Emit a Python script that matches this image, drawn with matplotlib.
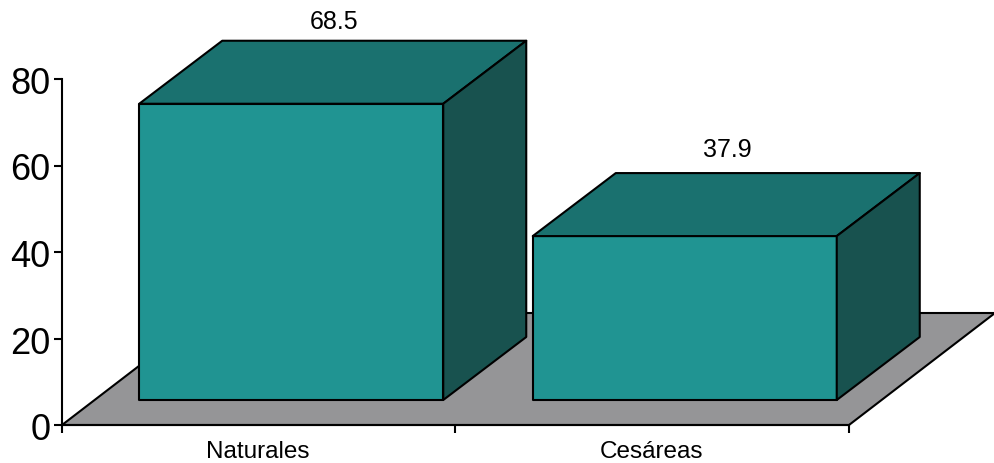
#!/usr/bin/env python

import matplotlib
matplotlib.use('Agg')
import matplotlib.pyplot as plt
from matplotlib.patches import Polygon
from matplotlib.transforms import ScaledTranslation

categories = ['Naturales', 'Cesáreas']
values = [68.5, 37.9]
value_labels = ['68.5', '37.9']
yticks = [0, 20, 40, 60, 80]

plt.rcParams['font.family'] = ['Liberation Sans', 'DejaVu Sans']

W, H = 995, 463
fig = plt.figure(figsize=(W / 100, H / 100), dpi=100)
ax = fig.add_axes([62 / W, (H - 425) / H, 787 / W, 346 / H])
ax.set_xlim(0, 2)
ax.set_ylim(0, 80)

# pixels to data units, the 3d look is only sheared polygons
ux = 2 / 787
uy = 80 / 346
floor_dx, floor_dy = 146 * ux, 112 * uy
front_dx, front_dy = 32.5 * ux, 25 * uy
depth_dx, depth_dy = 83 * ux, 63 * uy
bar_w = 304 * ux
label_gap = [7, 11]


def poly(pts, color, edge='black', lw=1.5):
    ax.add_patch(Polygon(pts, closed=True, facecolor=color, edgecolor=edge,
                         linewidth=lw, clip_on=False, joinstyle='round'))


poly([(0, 0), (2, 0), (2 + floor_dx, floor_dy), (floor_dx, floor_dy)], '#959597')

for i, v in enumerate(values):
    x0 = i + 0.5 - bar_w / 2 + front_dx
    x1 = x0 + bar_w
    y0 = front_dy
    y1 = y0 + v
    poly([(x0, y0), (x1, y0), (x1, y1), (x0, y1)], '#209492')
    poly([(x0, y1), (x1, y1), (x1 + depth_dx, y1 + depth_dy), (x0 + depth_dx, y1 + depth_dy)], '#1a716f')
    poly([(x1, y0), (x1 + depth_dx, y0 + depth_dy), (x1 + depth_dx, y1 + depth_dy), (x1, y1)], '#18524f')
    ax.text((x0 + x1) / 2 + depth_dx / 2 + 1 * ux, y1 + depth_dy + label_gap[i] * uy, value_labels[i],
            ha='center', va='bottom', fontsize=18, clip_on=False)

for s in ['top', 'right']:
    ax.spines[s].set_visible(False)
for s in ['left', 'bottom']:
    ax.spines[s].set_linewidth(1.5)
    ax.spines[s].set_zorder(5)

ax.set_yticks(yticks)
ax.tick_params(axis='y', labelsize=26, length=5.5, width=1.5, pad=3)
# tick labels sit a little under their ticks in the original
shift = ScaledTranslation(0, -1.5 / 100, fig.dpi_scale_trans)
for lab in ax.get_yticklabels():
    lab.set_transform(lab.get_transform() + shift)
ax.set_xticks([0, 1, 2])
ax.set_xticklabels([])
ax.tick_params(axis='x', length=5.5, width=1.5)
for i, c in enumerate(categories):
    ax.text(i + 0.5 - 1 * ux, -0.045, c, transform=ax.get_xaxis_transform(), ha='center', va='top', fontsize=17.5)

fig.savefig('out.png', dpi=100)
plt.close()
